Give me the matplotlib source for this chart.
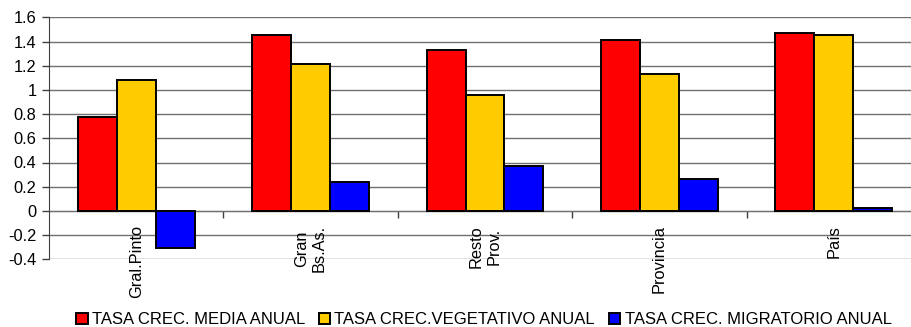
import matplotlib
matplotlib.use("Agg")
import matplotlib.pyplot as plt
import numpy as np

plt.rcParams['font.family'] = ['Liberation Sans', 'DejaVu Sans']

# growth rates per area (%)
areas = ["Gral.Pinto", "Gran\nBs.As.", "Resto\nProv.", "Provincia", "País"]
tasa_media = [0.78, 1.455, 1.33, 1.41, 1.47]
tasa_vegetativa = [1.085, 1.21, 0.96, 1.135, 1.455]
tasa_migratoria = [-0.31, 0.237, 0.372, 0.264, 0.02]
series_names = ["TASA CREC. MEDIA ANUAL", "TASA CREC.VEGETATIVO ANUAL",
                "TASA CREC. MIGRATORIO ANUAL"]
y_ticks = [-0.4, -0.2, 0, 0.2, 0.4, 0.6, 0.8, 1, 1.2, 1.4, 1.6]

fs = 11.8
fig = plt.figure(figsize=(9.12, 3.27), dpi=100)
# plot area runs a bit past the right edge of the figure
ax = fig.add_axes([49/912, 1-259.3/327, 872/912, 242/327])

x = np.arange(len(areas))
w = 0.2236
colors = ["#FF0000", "#FFCC00", "#0000FF"]
bars = []
for k, (vals, c) in enumerate(zip([tasa_media, tasa_vegetativa, tasa_migratoria], colors)):
    b = ax.bar(x + (k - 1)*w, vals, w, color=c, edgecolor="black", linewidth=1.4, zorder=3)
    bars.append(b)

ax.set_xlim(-0.5, len(areas) - 0.5)
ax.set_ylim(-0.4, 1.6)
ax.set_yticks(y_ticks)
ax.set_yticklabels(["%g" % v for v in y_ticks], fontsize=fs)
ax.yaxis.grid(True, color="#707070", linewidth=1.0, zorder=0)
ax.tick_params(axis="y", length=5, width=1, color="#404040", pad=4)

# category axis sits on the zero line
ax.spines["bottom"].set_position(("data", 0))
ax.spines["bottom"].set_color("#707070")
ax.spines["bottom"].set_zorder(2)
ax.set_xticks(x[:-1] + 0.5)
ax.set_xticklabels([])
ax.tick_params(axis="x", direction="out", length=5, width=1, color="#404040")
ax.spines["left"].set_color("#404040")
ax.spines["top"].set_visible(False)
ax.spines["right"].set_visible(False)

for i, name in enumerate(areas):
    ax.annotate(name, xy=(i, 0), xytext=(0, -10), textcoords="offset points",
                rotation=90, ha="center", va="top", multialignment="center",
                fontsize=fs)

fig.legend([b[0] for b in bars], series_names, loc="center",
           bbox_to_anchor=(484/912, 1-320/327), ncol=3, frameon=False,
           fontsize=12, handlelength=0.67, handleheight=0.67,
           handletextpad=0.25, columnspacing=0.85, borderpad=0, borderaxespad=0)

fig.savefig("out.png", dpi=100)
